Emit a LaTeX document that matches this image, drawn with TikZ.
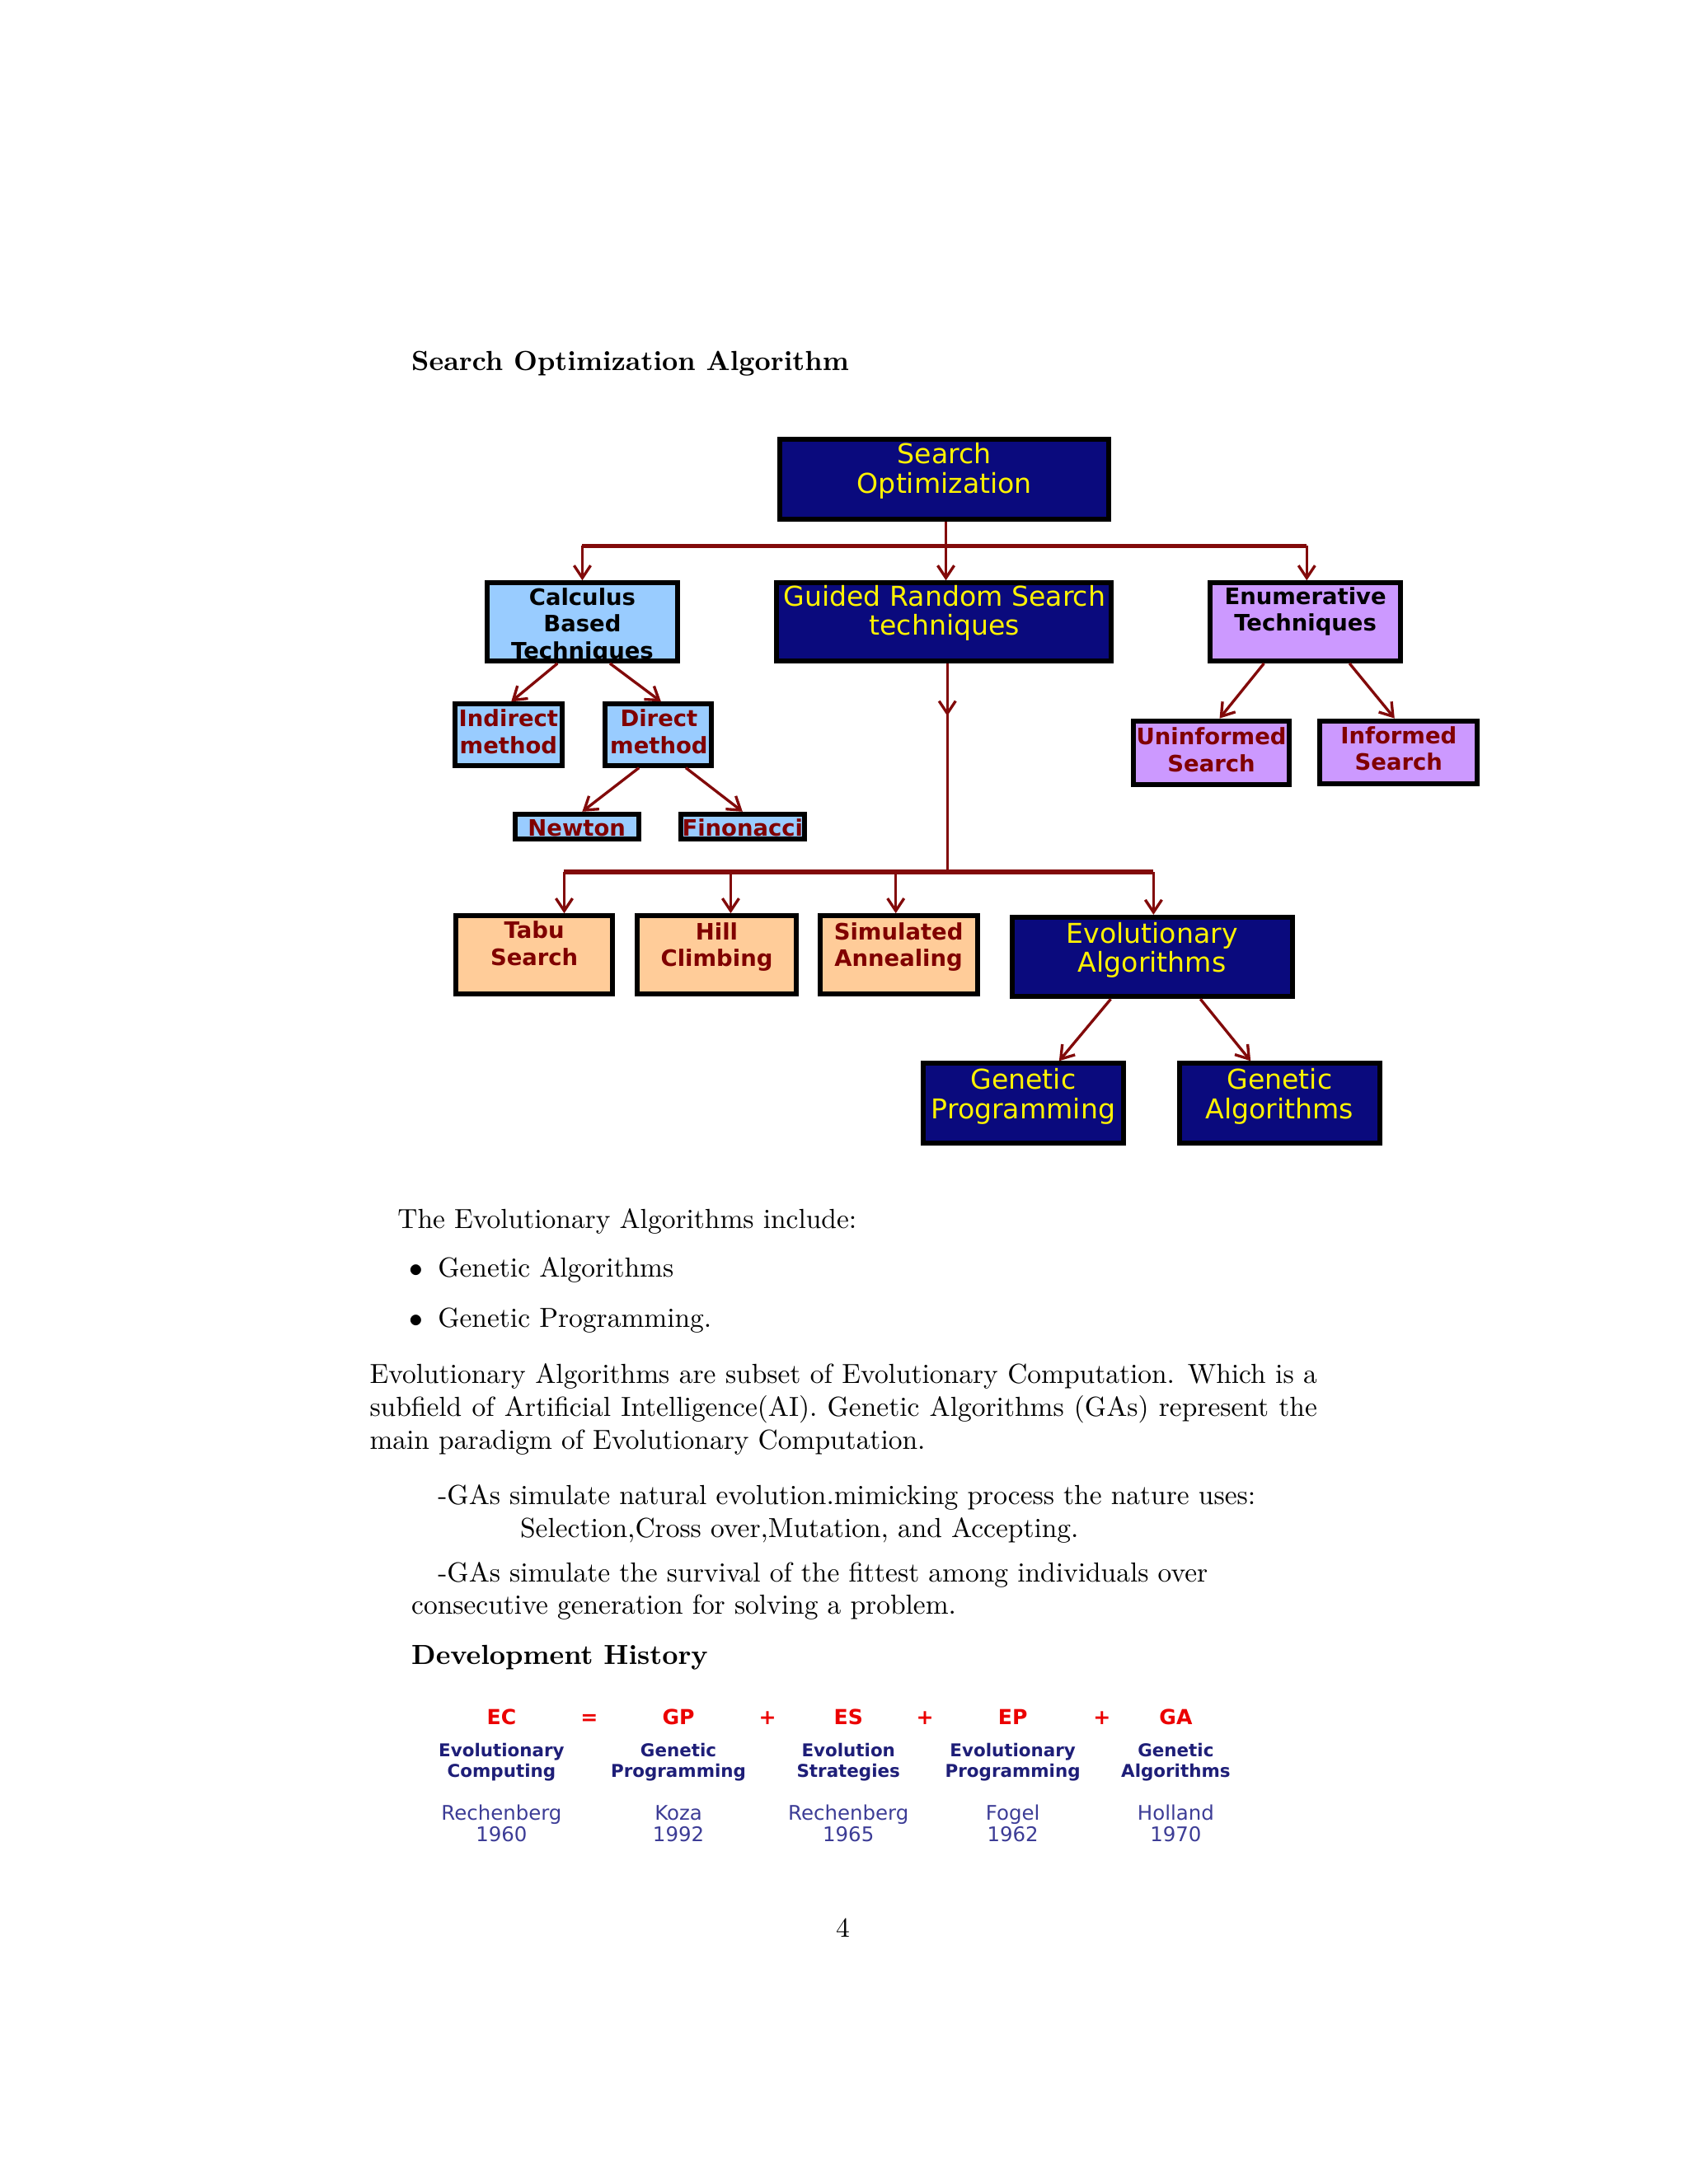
\documentclass[tikz,border=0pt]{standalone}
\usepackage{fontspec}
\newfontfamily\boxfont{DejaVu Sans}
\usetikzlibrary{arrows.meta}
\definecolor{navyfill}{RGB}{10,10,125}
\definecolor{ltblue}{RGB}{153,204,255}
\definecolor{lavender}{RGB}{204,153,255}
\definecolor{peach}{RGB}{255,204,153}
\definecolor{dred}{RGB}{128,0,0}
\definecolor{lnred}{RGB}{130,10,10}
\definecolor{tabnavy}{RGB}{30,30,120}
\definecolor{tablight}{RGB}{60,60,150}
\definecolor{tabred}{RGB}{235,0,0}
\tikzset{
  bx/.style={draw=black, line width=1.8pt, inner sep=0pt},
  navybx/.style={bx, fill=navyfill},
  bluebx/.style={bx, fill=ltblue},
  lavbx/.style={bx, fill=lavender},
  peachbx/.style={bx, fill=peach},
  bigtxt/.style={font=\boxfont\fontsize{9.9}{10.6}\selectfont, text=yellow, align=center, inner sep=0pt, anchor=base},
  smtxt/.style={font=\boxfont\bfseries\fontsize{8.2}{9.7}\selectfont, align=center, inner sep=0pt, anchor=base},
  conn/.style={draw=lnred, line width=1pt, -{Straight Barb[length=4.5pt,width=6pt,line width=1pt]}},
  plain/.style={draw=lnred, line width=1pt},
  body/.style={font=\fontsize{10}{12}\selectfont, inner sep=0pt, anchor=base west},
  tred/.style={font=\boxfont\bfseries\fontsize{7.5}{9}\selectfont, text=tabred, inner sep=0pt, anchor=base},
  tnavy/.style={font=\boxfont\bfseries\fontsize{6.4}{7.6}\selectfont, text=tabnavy, align=center, inner sep=0pt, anchor=base},
  tlight/.style={font=\boxfont\fontsize{7.3}{7.6}\selectfont, text=tablight, align=center, inner sep=0pt, anchor=base},
}
\begin{document}
\begin{tikzpicture}[x=0.50495pt,y=-0.50495pt]
\useasboundingbox[fill=white] (0,0) rectangle (1212,1568);

% heading
\node[body, font=\bfseries\fontsize{10}{12}\selectfont] (h1) at (295,266) {Search Optimization Algorithm};

% boxes
\node[navybx, minimum width=119.2pt, minimum height=28.8pt] (so) at (677.5,344) {};
\node[bluebx, minimum width=69.2pt, minimum height=28.3pt] (calc) at (418,446.5) {};
\node[navybx, minimum width=121.2pt, minimum height=28.3pt] (grs) at (677.5,446.5) {};
\node[lavbx, minimum width=69.2pt, minimum height=28.3pt] (enum) at (937,446.5) {};
\node[bluebx, minimum width=38.9pt, minimum height=22.2pt] (ind) at (365,527.5) {};
\node[bluebx, minimum width=38.4pt, minimum height=22.2pt] (dir) at (472.5,527.5) {};
\node[bluebx, minimum width=44.9pt, minimum height=9.1pt] (newt) at (414,593.5) {};
\node[bluebx, minimum width=44.9pt, minimum height=9.1pt] (fino) at (533,593.5) {};
\node[lavbx, minimum width=56.6pt, minimum height=23.2pt] (unin) at (869.5,540.5) {};
\node[lavbx, minimum width=57.1pt, minimum height=22.7pt] (inf) at (1004,540) {};
\node[peachbx, minimum width=56.6pt, minimum height=28.3pt] (tabu) at (383.5,685.5) {};
\node[peachbx, minimum width=57.6pt, minimum height=28.3pt] (hill) at (514.5,685.5) {};
\node[peachbx, minimum width=57.1pt, minimum height=28.3pt] (sim) at (645,685.5) {};
\node[navybx, minimum width=101.5pt, minimum height=28.8pt] (evo) at (827,687) {};
\node[navybx, minimum width=72.7pt, minimum height=28.8pt] (gp) at (734.5,792) {};
\node[navybx, minimum width=72.7pt, minimum height=28.8pt] (ga) at (918.5,792) {};

% box texts (anchor at baseline of last line)
\node[bigtxt] (so-t) at (678,354) {Search\\Optimization};
\node[smtxt] (calc-t) at (418,473) {Calculus\\Based\\Techniques};
\node[bigtxt] (grs-t) at (678,456) {Guided Random Search\\techniques};
\node[smtxt] (enum-t) at (937,453) {Enumerative\\Techniques};
\node[smtxt, text=dred] (ind-t) at (365,541) {Indirect\\method};
\node[smtxt, text=dred] (dir-t) at (473,541) {Direct\\method};
\node[smtxt, text=dred] (newt-t) at (414,600) {Newton};
\node[smtxt, text=dred] (fino-t) at (533,600) {Finonacci};
\node[smtxt, text=dred] (unin-t) at (869.5,554) {Uninformed\\Search};
\node[smtxt, text=dred] (inf-t) at (1004,553) {Informed\\Search};
\node[smtxt, text=dred] (tabu-t) at (383.5,693) {Tabu\\Search};
\node[smtxt, text=dred] (hill-t) at (514.5,694) {Hill\\Climbing};
\node[smtxt, text=dred] (sim-t) at (645,694) {Simulated\\Annealing};
\node[bigtxt] (evo-t) at (827,698) {Evolutionary\\Algorithms};
\node[bigtxt] (gp-t) at (734.5,803) {Genetic\\Programming};
\node[bigtxt] (ga-t) at (918.5,803) {Genetic\\Algorithms};

% connectors, top level
\coordinate (j1) at (679,392);
\coordinate (j1l) at (418,392);
\coordinate (j1r) at (938,392);
\draw[plain] (so.south -| j1) -- (j1);
\draw[plain, line width=1.6pt] (j1l) -- (j1r);
\draw[conn] (j1l) -- (j1l |- calc.north);
\draw[conn] (j1) -- (j1 |- grs.north);
\draw[conn] (j1r) -- (j1r |- enum.north);

\draw[conn] ([xshift=-9pt]calc.south) -- ([xshift=1pt]ind.north);
\draw[conn] ([xshift=10pt]calc.south) -- ([xshift=1pt]dir.north);
\draw[conn] ([xshift=-7pt]dir.south) -- ([xshift=2pt]newt.north);
\draw[conn] ([xshift=10pt]dir.south) -- ([xshift=0pt]fino.north);
\draw[conn] ([xshift=-15pt]enum.south) -- ([xshift=3pt]unin.north);
\draw[conn] ([xshift=16pt]enum.south) -- ([xshift=-1.5pt]inf.north);

% guided random search branch
\coordinate (j2) at (680,626);
\coordinate (j2l) at (405,626);
\coordinate (j2r) at (828,626);
\coordinate (mid) at (680,514);
\draw[plain] (grs.south -| j2) -- (j2);
\draw[conn] (grs.south -| j2) -- (mid);
\draw[plain, line width=1.6pt] (j2l) -- (j2r);
\draw[conn] (j2l) -- (j2l |- tabu.north);
\draw[conn] (j2 -| hill) ++(10,0) coordinate (jh) (jh) -- (jh |- hill.north);
\draw[conn] (j2 -| sim) ++(-2,0) coordinate (js) (js) -- (js |- sim.north);
\draw[conn] (j2r) -- (j2r |- evo.north);

\draw[conn] ([xshift=-15pt]evo.south) -- ([xshift=13pt]gp.north);
\draw[conn] ([xshift=17.5pt]evo.south) -- ([xshift=-10.5pt]ga.north);

% body text
\node[body] (t1) at (285,882) {The Evolutionary Algorithms include:};
\node[body, anchor=base] (b1) at (299,917) {$\bullet$};
\node[body] (t2) at (314,917) {Genetic Algorithms};
\node[body, anchor=base] (b2) at (299,953) {$\bullet$};
\node[body] (t3) at (314,953) {Genetic Programming.};
\node[body, text width=343.4pt, align=justify] (p1) at (265,993) {Evolutionary Algorithms are subset of Evolutionary Computation. Which is a\linebreak subfield of Artificial Intelligence(AI). Genetic Algorithms (GAs) represent the\linebreak main paradigm of Evolutionary Computation.};
\node[body] (t4) at (314,1080) {-GAs simulate natural evolution.mimicking process the nature uses:};
\node[body] (t5) at (373,1104) {Selection,Cross over,Mutation, and Accepting.};
\node[body] (t6) at (314,1136) {-GAs simulate the survival of the fittest among individuals over};
\node[body] (t7) at (295,1159) {consecutive generation for solving a problem.};
\node[body, font=\bfseries\fontsize{10}{12}\selectfont] (h2) at (295,1195) {Development History};

% table
\foreach \x/\a/\b/\c/\d/\e/\n in {360/EC/Evolutionary/Computing/Rechenberg/1960/ec, 487/GP/Genetic/Programming/Koza/1992/gpt, 609/ES/Evolution/Strategies/Rechenberg/1965/es, 727/EP/Evolutionary/Programming/Fogel/1962/ep, 844/GA/Genetic/Algorithms/Holland/1970/gat}{
  \node[tred] (\n-a) at (\x,1238) {\a};
  \node[tnavy] (\n-b) at (\x,1276) {\b\\\c};
  \node[tlight] (\n-c) at (\x,1322) {\d\\\e};
}
\node[tred] (eq) at (423,1238) {=};
\node[tred] (pl1) at (551,1238) {+};
\node[tred] (pl2) at (664,1238) {+};
\node[tred] (pl3) at (791,1238) {+};

% page number
\node[body, anchor=base] (pg) at (605,1391) {4};
\end{tikzpicture}
\end{document}
